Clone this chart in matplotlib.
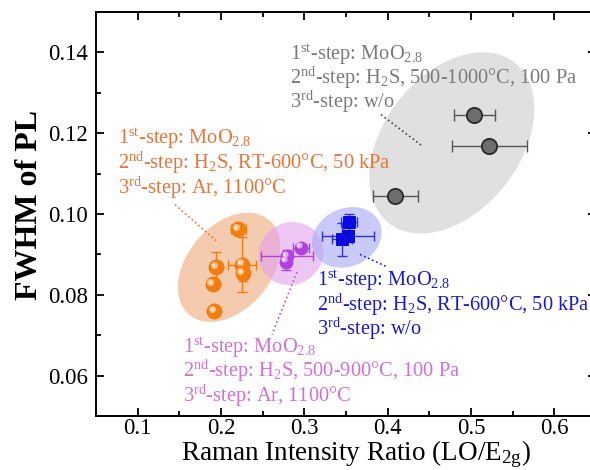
import matplotlib
matplotlib.use("Agg")
import matplotlib.pyplot as plt
from matplotlib.patches import Ellipse
from matplotlib.transforms import ScaledTranslation
from matplotlib.ticker import MultipleLocator

plt.rcParams['font.family'] = ['Liberation Serif', 'DejaVu Serif']
plt.rcParams['mathtext.fontset'] = 'custom'
plt.rcParams['mathtext.rm'] = 'Liberation Serif'
plt.rcParams['mathtext.it'] = 'Liberation Serif:italic'
plt.rcParams['mathtext.bf'] = 'Liberation Serif:bold'

# ---- data ----
gray_x = [0.504, 0.522, 0.409]
gray_y = [0.1246, 0.1169, 0.1045]
gray_xerr = [0.025, 0.045, 0.027]

orange_x = [0.2205, 0.194, 0.190, 0.192, 0.225, 0.226]
orange_y = [0.0962, 0.0868, 0.0826, 0.0759, 0.0875, 0.0853]
orange_xerr = [0.009, 0.0, 0.0, 0.0, 0.017, 0.0]
orange_yerr = [0.0015, 0.0037, 0.0, 0.0, 0.0068, 0.002]

purple_x = [0.296, 0.279, 0.278]
purple_y = [0.0917, 0.0895, 0.0882]
purple_xerr = [0.010, 0.031, 0.0]
purple_yerr = [0.0, 0.0015, 0.002]

blue_x = [0.3537, 0.3525, 0.345]
blue_y = [0.0979, 0.0946, 0.0937]
blue_xerr = [0.010, 0.031, 0.012]
blue_yerr = [0.002, 0.0015, 0.004]

x_ticks = [0.1, 0.2, 0.3, 0.4, 0.5, 0.6]
y_ticks = [0.06, 0.08, 0.10, 0.12, 0.14]

fig = plt.figure(figsize=(5.9, 4.7), dpi=100)
ax = fig.add_axes([96/590, 54/470, 500/590, 404/470])
ax.set_xlim(0.05, 0.65)
ax.set_ylim(0.05, 0.15)

def add_ell(cx, cy, w_px, h_px, ang, color, alpha):
    tr = fig.dpi_scale_trans + ScaledTranslation(cx, cy, ax.transData)
    e = Ellipse((0, 0), w_px/100, h_px/100, angle=ang, transform=tr,
                facecolor=color, edgecolor='none', alpha=alpha, zorder=1)
    ax.add_patch(e)

add_ell(0.477, 0.1176, 204, 136, 52, '#d6d6d6', 0.75)
add_ell(0.2097, 0.0868, 124, 84, 50, '#f2b58e', 0.7)
add_ell(0.284, 0.0902, 66, 62, 30, '#e2a0ee', 0.6)
add_ell(0.351, 0.0942, 72, 58, 25, '#a8a8f4', 0.6)

def spheres(xs, ys, xe, ye, base, hl, size):
    ax.errorbar(xs, ys, xerr=xe, yerr=ye, fmt='none', ecolor=base,
                elinewidth=1.0, capsize=3.5, capthick=1.0, zorder=3)
    ax.plot(xs, ys, 'o', ms=size, color=base, mec='none', zorder=4)
    off = ScaledTranslation(-1.6/72, 1.6/72, fig.dpi_scale_trans)
    ax.plot(xs, ys, 'o', ms=size*0.45, color=hl, mec='none', alpha=0.85,
            zorder=5, transform=ax.transData + off)
    off2 = ScaledTranslation(-2.0/72, 2.0/72, fig.dpi_scale_trans)
    ax.plot(xs, ys, 'o', ms=size*0.18, color='white', mec='none',
            zorder=6, transform=ax.transData + off2)

# gray circles
ax.errorbar(gray_x, gray_y, xerr=gray_xerr, fmt='none', ecolor='#555555',
            elinewidth=1.0, capsize=4, capthick=1.0, zorder=3)
ax.plot(gray_x, gray_y, 'o', ms=11, color='#6e6e6e', mec='#2a2a2a', mew=1.3, zorder=4)

spheres(orange_x, orange_y, orange_xerr, orange_yerr, '#f07d10', '#ffc890', 11.5)
spheres(purple_x, purple_y, purple_xerr, purple_yerr, '#b040e0', '#e8b8f8', 10)

ax.errorbar(blue_x, blue_y, xerr=blue_xerr, yerr=blue_yerr, fmt='none',
            ecolor='#3030e0', elinewidth=1.0, capsize=3.5, capthick=1.0, zorder=3)
ax.plot(blue_x, blue_y, 's', ms=9, color='#0a0ae6', mec='#0000b0', mew=0.6, zorder=4)

# leader lines
ax.plot([0.392, 0.4424], [0.1246, 0.1167], ls=':', color='#444444', lw=1.2, zorder=2)
ax.plot([0.1448, 0.1952], [0.1023, 0.0932], ls=':', color='#e8743a', lw=1.2, zorder=2)
ax.plot([0.2912, 0.2612], [0.0856, 0.0702], ls=':', color='#c050d0', lw=1.2, zorder=2)
ax.plot([0.3668, 0.4004], [0.0900, 0.0868], ls=':', color='#2020c0', lw=1.2, zorder=2)

fs = 14.7
def block(x, ys, lines, color):
    for yy, t in zip(ys, lines):
        ax.text(x, yy, t, color=color, fontsize=fs, ha='left', va='center', zorder=7)

block(0.2828, [0.1395, 0.1336, 0.1277],
      [r"1$^{\rm st}$-step: MoO$_{\rm 2.8}$",
       r"2$^{\rm nd}$-step: H$_{\rm 2}$S, 500-1000°C, 100 Pa",
       r"3$^{\rm rd}$-step: w/o"], '#7a7a7a')
block(0.0764, [0.1186, 0.1127, 0.1065],
      [r"1$^{\rm st}$-step: MoO$_{\rm 2.8}$",
       r"2$^{\rm nd}$-step: H$_{\rm 2}$S, RT-600°C, 50 kPa",
       r"3$^{\rm rd}$-step: Ar, 1100°C"], '#e8743a')
block(0.3152, [0.0836, 0.0774, 0.0715],
      [r"1$^{\rm st}$-step: MoO$_{\rm 2.8}$",
       r"2$^{\rm nd}$-step: H$_{\rm 2}$S, RT-600°C, 50 kPa",
       r"3$^{\rm rd}$-step: w/o"], '#1a1acc')
block(0.1544, [0.0670, 0.0611, 0.0549],
      [r"1$^{\rm st}$-step: MoO$_{\rm 2.8}$",
       r"2$^{\rm nd}$-step: H$_{\rm 2}$S, 500-900°C, 100 Pa",
       r"3$^{\rm rd}$-step: Ar, 1100°C"], '#d070d8')

ax.set_xticks(x_ticks)
ax.set_xticklabels([f"{v:.1f}" for v in x_ticks])
ax.set_yticks(y_ticks)
ax.set_yticklabels([f"{v:.2f}" for v in y_ticks])
ax.xaxis.set_minor_locator(MultipleLocator(0.05))
ax.yaxis.set_minor_locator(MultipleLocator(0.01))
ax.tick_params(which='both', direction='in', top=True, right=True, width=1.3)
ax.tick_params(which='major', length=6, labelsize=16.5)
ax.tick_params(axis='x', which='major', pad=1.5)
ax.tick_params(axis='y', which='major', pad=6)
ax.tick_params(which='minor', length=3.5)
for s in ax.spines.values():
    s.set_linewidth(1.4)

ax.set_xlabel(r"Raman Intensity Ratio (LO/E$_{\rm 2g}$)", fontsize=19.5)
ax.xaxis.label.set_va('baseline')
ax.xaxis.set_label_coords((356 - 96) / 500, (416 - 460) / 404)
ax.set_ylabel("FWHM of PL", fontsize=23, fontweight='bold')
ax.yaxis.label.set_va('center')
ax.yaxis.set_label_coords((30 - 96) / 500, (416 - 205) / 404)

fig.savefig("out.png", dpi=100)
